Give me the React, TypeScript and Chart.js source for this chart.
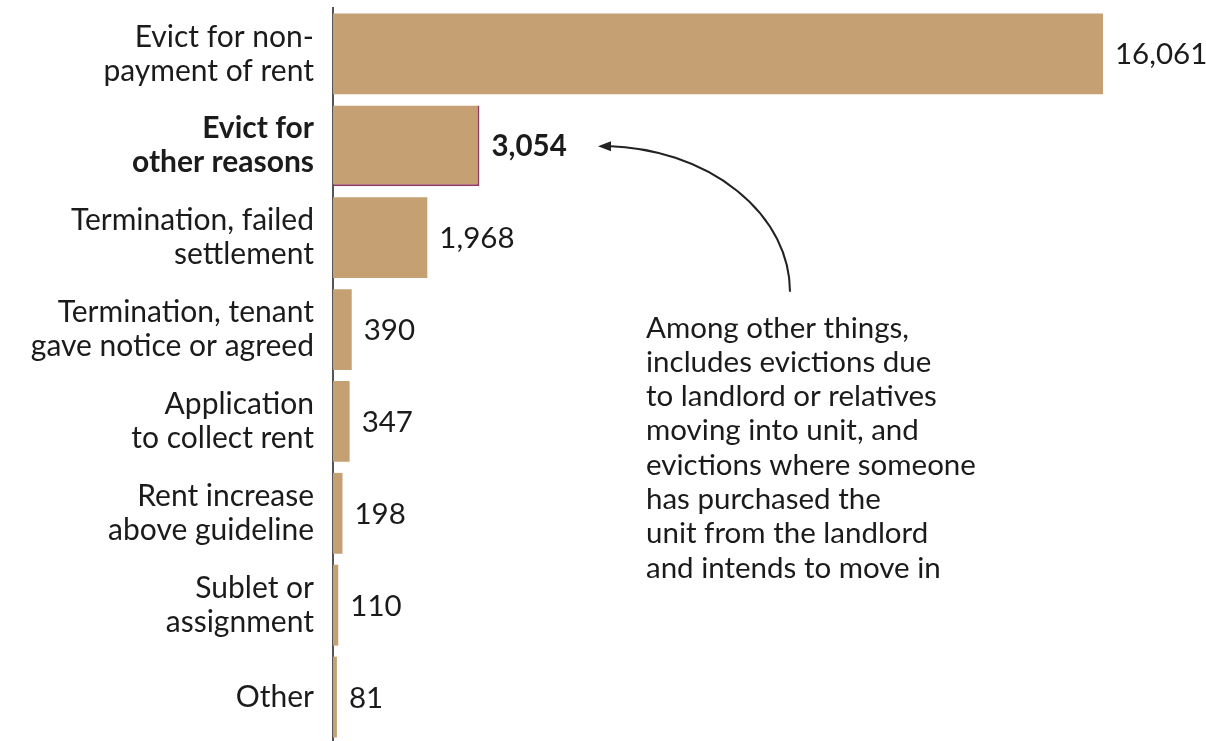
import React, { useEffect, useRef } from "react";
import { Chart, registerables } from "chart.js";

Chart.register(...registerables);

const categories: string[][] = [
  ["Evict for non-", "payment of rent"],
  ["Evict for", "other reasons"],
  ["Termination, failed", "settlement"],
  ["Termination, tenant", "gave notice or agreed"],
  ["Application", "to collect rent"],
  ["Rent increase", "above guideline"],
  ["Sublet or", "assignment"],
  ["Other"],
];
const values: number[] = [16061, 3054, 1968, 390, 347, 198, 110, 81];
const valueLabels: string[] = ["16,061", "3,054", "1,968", "390", "347", "198", "110", "81"];
const highlightIndex = 1;
const annotationLines: string[] = [
  "Among other things,",
  "includes evictions due",
  "to landlord or relatives",
  "moving into unit, and",
  "evictions where someone",
  "has purchased the",
  "unit from the landlord",
  "and intends to move in",
];

const FONT = "Lato, 'Open Sans', sans-serif";
const TEXT = "#1b1b1b";
const BAR = "#C5A073";

export default function App() {
  const ref = useRef<HTMLCanvasElement | null>(null);
  useEffect(() => {
    if (!ref.current) return;
    const labelPlugin = {
      id: "valueLabels",
      afterDatasetsDraw(chart: any) {
        const ctx = chart.ctx;
        const meta = chart.getDatasetMeta(0);
        ctx.save();
        ctx.textBaseline = "middle";
        ctx.textAlign = "left";
        ctx.fillStyle = TEXT;
        meta.data.forEach((bar: any, i: number) => {
          ctx.font = `${i === highlightIndex ? "bold " : ""}29.5px ${FONT}`;
          ctx.fillText(valueLabels[i], bar.x + 12, bar.y + 1);
        });
        // annotation
        const y1 = meta.data[highlightIndex].y;
        const tipX = 598;
        const cx = 600;
        const cy = y1 + 146;
        ctx.strokeStyle = "#222";
        ctx.lineWidth = 2;
        ctx.beginPath();
        ctx.ellipse(cx, cy, 190, 146, 0, -Math.PI / 2 + 0.04, 0, false);
        ctx.stroke();
        ctx.fillStyle = "#222";
        ctx.beginPath();
        ctx.moveTo(tipX, y1 + 0.5);
        ctx.lineTo(tipX + 13, y1 - 4.5);
        ctx.lineTo(tipX + 13, y1 + 5.5);
        ctx.closePath();
        ctx.fill();
        ctx.fillStyle = TEXT;
        ctx.font = `29.5px ${FONT}`;
        annotationLines.forEach((t, i) => {
          ctx.fillText(t, 646, 328 + i * 34.3);
        });
        ctx.restore();
      },
    };
    const chart = new Chart(ref.current, {
      type: "bar",
      data: {
        labels: categories,
        datasets: [
          {
            data: values,
            backgroundColor: BAR,
            borderColor: "#8E3A66",
            borderWidth: (c: any) =>
              c.dataIndex === highlightIndex ? { top: 0, left: 0, right: 2, bottom: 2 } : 0,
            borderSkipped: false,
            barPercentage: 0.88,
            categoryPercentage: 1,
          },
        ],
      },
      options: {
        indexAxis: "y",
        animation: false,
        responsive: false,
        maintainAspectRatio: false,
        layout: { padding: { top: 8, bottom: 2, right: 103, left: 0 } },
        plugins: { legend: { display: false }, tooltip: { enabled: false } },
        scales: {
          x: { display: false, min: 0, max: 16061 },
          y: {
            afterFit: (s: any) => {
              s.width = 333;
              s.paddingTop = 0;
              s.paddingBottom = 0;
            },
            grid: { display: false, drawTicks: false },
            border: { display: true, color: "#555", width: 2 },
            ticks: {
              padding: 19,
              color: TEXT,
              font: (c: any) => ({
                family: FONT,
                size: 30,
                lineHeight: 34 / 30,
                weight: c.index === highlightIndex ? "bold" : "normal",
              }),
            },
          },
        },
      },
      plugins: [labelPlugin],
    } as any);
    return () => chart.destroy();
  }, []);
  return (
    <div
      style={{
        position: "fixed",
        left: 0,
        top: 0,
        width: 1206,
        height: 741,
        overflow: "hidden",
        background: "#fff",
      }}
    >
      <canvas ref={ref} width={1206} height={745} style={{ display: "block" }} />
    </div>
  );
}
